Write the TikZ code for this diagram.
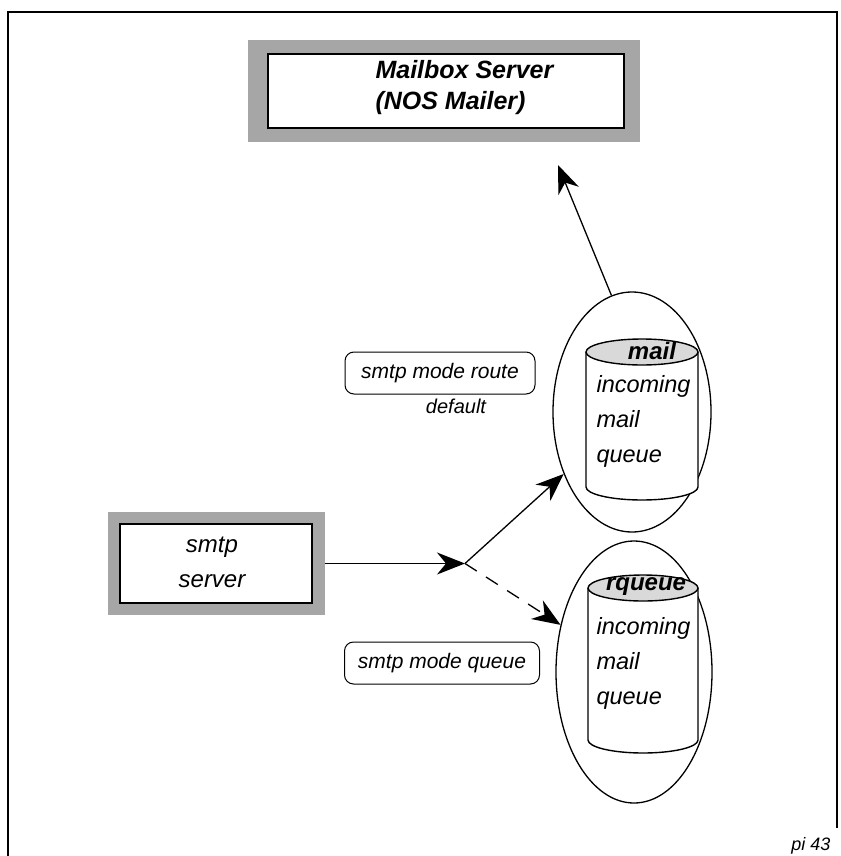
\documentclass[tikz,border=0pt]{standalone}
\usepackage{fontspec}
\setmainfont{Liberation Sans}
\usetikzlibrary{arrows.meta,shapes.geometric}
\begin{document}
\begin{tikzpicture}[x=1pt,y=1pt,
  shadowbox/.style={draw=none, fill=black!35, inner sep=0pt},
  innerbox/.style={draw, line width=1.6pt, fill=white, inner sep=0pt},
  cmdbox/.style={draw, rounded corners=9pt, line width=1pt, inner sep=0pt, minimum width=190pt, minimum height=42pt, font=\fontsize{21}{24}\selectfont\itshape},
  arr/.style={line width=1.3pt, -{Stealth[length=28pt,width=22pt,inset=9pt]}},
  bubble/.style={draw, ellipse, line width=1.3pt, inner sep=0pt},
  cyl/.style={line width=1.4pt},
  captext/.style={font=\fontsize{23.5}{35}\selectfont\itshape, align=left, anchor=west},
  toptext/.style={font=\fontsize{24}{30}\selectfont\bfseries\itshape}
]
\useasboundingbox (0,0) rectangle (840,-856);
% frame
\draw[line width=1.8pt] (8,-856) -- (8,-12) -- (837,-12) -- (837,-828);

% Mailbox server
\node[shadowbox, minimum width=392pt, minimum height=102pt] (mbx) at (444,-91) {};
\node[innerbox, minimum width=356pt, minimum height=74pt] (mbxin) at (446,-91) {};
\node[font=\fontsize{25}{31}\selectfont\bfseries\itshape, align=left, anchor=west] (mbxt) at (372,-88) {Mailbox Server\\(NOS Mailer)};
\coordinate (mbxtip) at (558,-165);

% smtp server
\node[shadowbox, minimum width=217pt, minimum height=103pt] (smtp) at (216.5,-563.5) {};
\node[innerbox, minimum width=192pt, minimum height=79pt] (smtpin) at (216,-563.5) {};
\node[font=\fontsize{24}{35}\selectfont\itshape, align=center] (smtpt) at (212,-562) {smtp\\server};

% junction
\coordinate (j) at (465,-563.5);

% mail queue bubble
\node[bubble, minimum width=158pt, minimum height=240pt] (mail) at (632,-412) {};
\draw[cyl, fill=white] (586,-352) -- (586,-487) arc[start angle=180, end angle=360, x radius=56, y radius=13] -- (698,-352);
\draw[cyl, fill=black!15] (642,-352) ellipse [x radius=56, y radius=13];
\node[toptext] (mailt) at (652,-351) {mail};
\node[captext] (mailq) at (593,-421) {incoming\\mail\\queue};

% rqueue bubble
\node[bubble, minimum width=156pt, minimum height=262pt] (rq) at (634,-672) {};
\draw[cyl, fill=white] (588,-588) -- (588,-740) arc[start angle=180, end angle=360, x radius=55, y radius=13] -- (698,-588);
\draw[cyl, fill=black!15] (643,-588) ellipse [x radius=55, y radius=13];
\node[toptext] (rqt) at (646,-587) {rqueue};
\node[captext] (rqq) at (593,-663) {incoming\\mail\\queue};

% command boxes
\node[cmdbox] (route) at (440,-373) {smtp mode route};
\node[font=\fontsize{20}{24}\selectfont\itshape] (deflt) at (456,-406) {default};
\node[cmdbox, minimum width=195pt] (queue) at (442,-663) {smtp mode queue};

% connectors
\draw[arr] (smtp.east) -- (j);
\draw[arr] (j) -- (mail);
\draw[arr, dash pattern=on 14pt off 11pt] (j) -- (rq);
\draw[arr] (mail.100) -- (mbxtip);

% figure id
\node[font=\fontsize{18}{20}\selectfont\itshape, anchor=base east] (pid) at (834,-850) {pi 43};
\end{tikzpicture}
\end{document}
